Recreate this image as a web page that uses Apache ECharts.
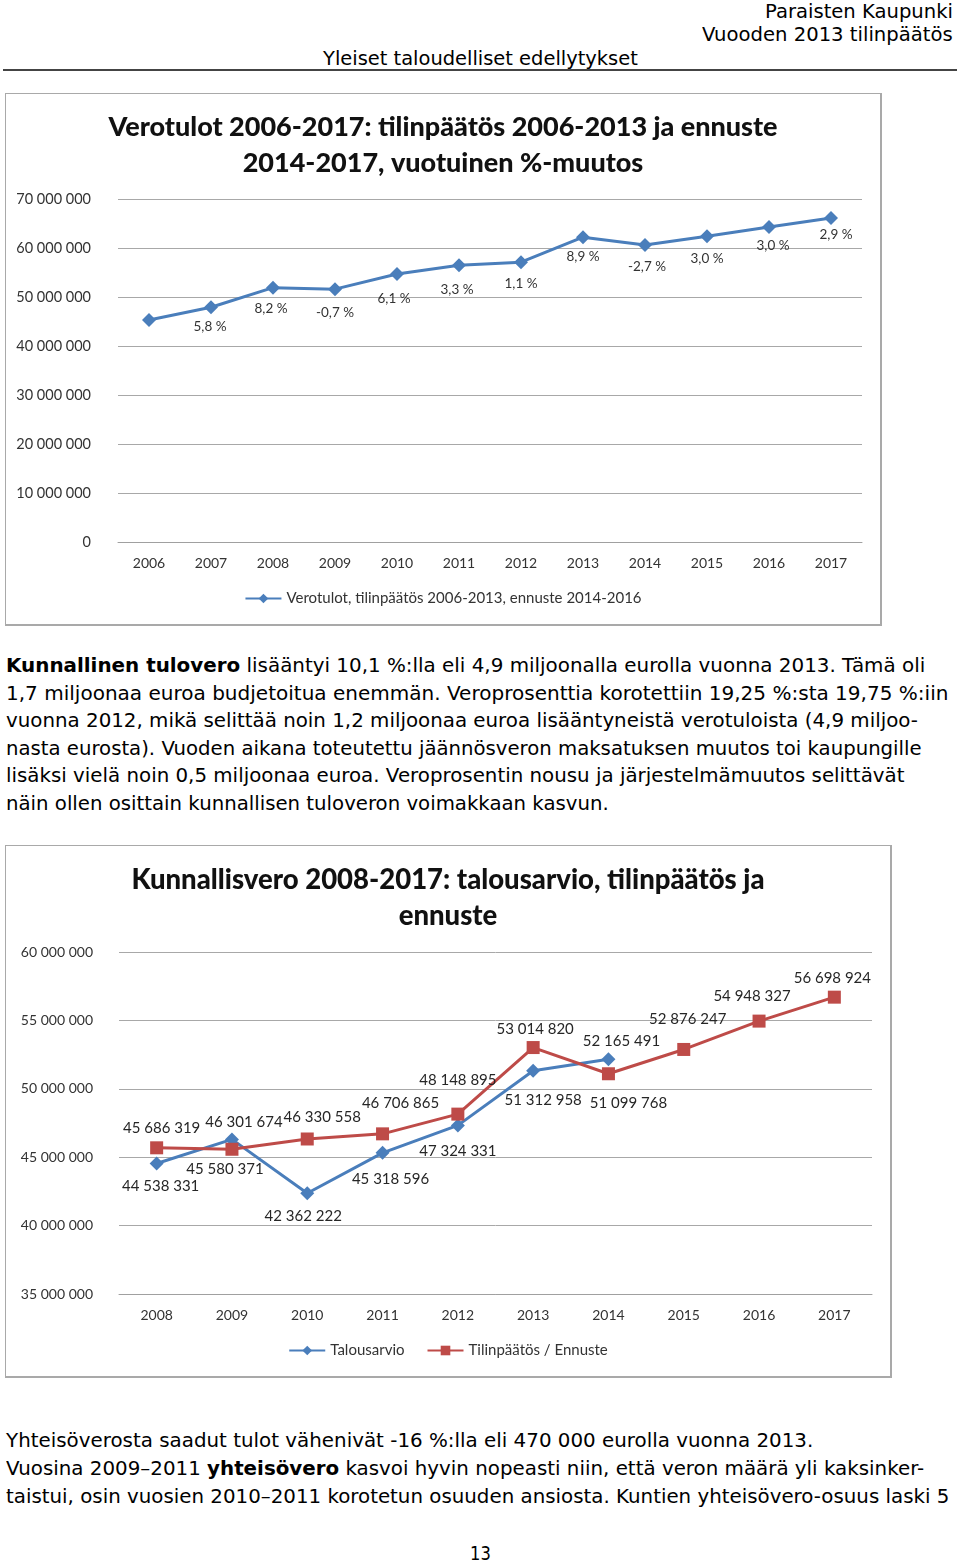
<!DOCTYPE html>
<html><head><meta charset="utf-8">
<script src="https://cdn.jsdelivr.net/npm/echarts@6/dist/echarts.min.js"></script>
<style>
html,body{margin:0;padding:0;background:#fff;width:960px;height:1562px;overflow:hidden;}
.t{position:absolute;white-space:nowrap;font-family:"DejaVu Sans",Verdana,sans-serif;color:#000;transform-origin:0 50%;line-height:1;}
.box{position:absolute;border:2px solid #a9a9a9;box-sizing:border-box;}
.ch{position:absolute;}
</style></head><body>
<div class="t" id="h1" data-r="953" data-w="188" style="top:1px;font-size:20px;">Paraisten Kaupunki</div>
<div class="t" id="h2" data-r="953" data-w="251" style="top:24px;font-size:20px;">Vuooden 2013 tilinpäätös</div>
<div class="t" id="h3" data-c="480" data-w="315" style="top:48px;font-size:20px;">Yleiset taloudelliset edellytykset</div>
<div style="position:absolute;left:3px;top:69px;width:954px;height:2px;background:#444;"></div>

<div class="box" style="left:5px;top:93px;width:877px;height:533px;"></div>
<div class="ch" id="c1" style="left:6px;top:94px;width:874px;height:530px;"></div>

<div class="t p" data-l="6" data-w="919" style="top:656px;font-size:19px;"><b>Kunnallinen tulovero</b> lisääntyi 10,1 %:lla eli 4,9 miljoonalla eurolla vuonna 2013. Tämä oli</div>
<div class="t p" data-l="6" data-w="942" style="top:684px;font-size:19px;">1,7 miljoonaa euroa budjetoitua enemmän. Veroprosenttia korotettiin 19,25 %:sta 19,75 %:iin</div>
<div class="t p" data-l="6" data-w="912" style="top:711px;font-size:19px;">vuonna 2012, mikä selittää noin 1,2 miljoonaa euroa lisääntyneistä verotuloista (4,9 miljoo-</div>
<div class="t p" data-l="6" data-w="916" style="top:739px;font-size:19px;">nasta eurosta). Vuoden aikana toteutettu jäännösveron maksatuksen muutos toi kaupungille</div>
<div class="t p" data-l="6" data-w="898" style="top:766px;font-size:19px;">lisäksi vielä noin 0,5 miljoonaa euroa. Veroprosentin nousu ja järjestelmämuutos selittävät</div>
<div class="t p" data-l="6" data-w="603" style="top:794px;font-size:19px;">näin ollen osittain kunnallisen tuloveron voimakkaan kasvun.</div>

<div class="box" style="left:5px;top:845px;width:887px;height:533px;"></div>
<div class="ch" id="c2" style="left:6px;top:846px;width:884px;height:530px;"></div>

<div class="t p" data-l="6" data-w="807" style="top:1431px;font-size:19px;">Yhteisöverosta saadut tulot vähenivät -16 %:lla eli 470 000 eurolla vuonna 2013.</div>
<div class="t p" data-l="6" data-w="918" style="top:1459px;font-size:19px;">Vuosina 2009–2011 <b>yhteisövero</b> kasvoi hyvin nopeasti niin, että veron määrä yli kaksinker-</div>
<div class="t p" data-l="6" data-w="943" style="top:1487px;font-size:19px;">taistui, osin vuosien 2010–2011 korotetun osuuden ansiosta. Kuntien yhteisövero-osuus laski 5</div>
<div class="t" id="pn" data-c="480" style="top:1544px;font-size:19px;">13</div>

<script>
// ---- data: chart 1 ----
const years1 = ['2006','2007','2008','2009','2010','2011','2012','2013','2014','2015','2016','2017'];
const verotulot = [45300000, 47900000, 51900000, 51600000, 54700000, 56500000, 57100000, 62200000, 60600000, 62400000, 64300000, 66100000];
const muutos = ['', '5,8 %', '8,2 %', '-0,7 %', '6,1 %', '3,3 %', '1,1 %', '8,9 %', '-2,7 %', '3,0 %', '3,0 %', '2,9 %'];
const series1Name = 'Verotulot, tilinpäätös 2006-2013, ennuste 2014-2016';
const title1 = 'Verotulot 2006-2017: tilinpäätös 2006-2013 ja ennuste\n2014-2017, vuotuinen %-muutos';

// ---- data: chart 2 ----
const years2 = ['2008','2009','2010','2011','2012','2013','2014','2015','2016','2017'];
const talousarvio = [44538331, 46301674, 42362222, 45318596, 47324331, 51312958, 52165491, null, null, null];
const tilinpaatos = [45686319, 45580371, 46330558, 46706865, 48148895, 53014820, 51099768, 52876247, 54948327, 56698924];
const title2 = 'Kunnallisvero 2008-2017: talousarvio, tilinpäätös ja\nennuste';

// label placement (style only)
const posA = ['bottom','top','bottom','bottom','bottom','bottom','top'];
const dxA  = [4, 12, -4, 8, 0, 10, 13];
const dyA  = [0, 5, 0, 4, 3, 7, 4];
const posB = ['top','bottom','top','top','top','top','bottom','top','top','top'];
const dxB  = [5, -7, 15, 18, 0, 2, 20, 4, -7, -2];
const dyB  = [2, -2, 0, -9, -12, 4, 7, -8, -3, 3];
const dy1  = [0, -1, 1, 3, 5, 4, 1, -1, 2, 2, -1, -3];
const dx1  = [0, -1, -2, 0, -3, -2, 0, 0, 2, 0, 4, 5];

const fmt = v => String(Math.round(v)).replace(/\B(?=(\d{3})+(?!\d))/g, ' ');
const FF = 'Lato, "Noto Sans", sans-serif';
const BLUE = '#4a7ebb', RED = '#be4b48';

// ---- text fitting ----
document.querySelectorAll('.t').forEach(el => {
  const w = el.offsetWidth;
  let s = 1;
  if (el.dataset.w) s = (+el.dataset.w) / w;
  else s = 0.86;
  el.style.transform = 'scaleX(' + s + ')';
  const sw = w * s;
  if (el.dataset.r) el.style.left = (+el.dataset.r - sw) + 'px';
  else if (el.dataset.c) el.style.left = (+el.dataset.c - sw / 2) + 'px';
  else el.style.left = (el.dataset.l || 0) + 'px';
});

const titleStyle = { fontFamily: FF, fontWeight: 900, fontSize: 27.5, lineHeight: 36, color: '#111' };

// ---- chart 1 ----
const c1 = echarts.init(document.getElementById('c1'));
c1.setOption({
  animation: false,
  backgroundColor: '#fff',
  title: { text: title1, left: 'center', top: 10, textStyle: Object.assign({}, titleStyle, { fontSize: 27 }) },
  grid: { left: 112, right: 18, top: 105, bottom: 82 },
  legend: { bottom: 13, left: 'center', itemWidth: 36, itemHeight: 12, textStyle: { fontFamily: FF, fontSize: 15, color: '#333' }, data: [series1Name] },
  xAxis: { type: 'category', data: years1, axisTick: { show: false }, axisLine: { lineStyle: { color: '#a0a0a0' } },
    axisLabel: { fontFamily: FF, fontSize: 14, color: '#333', margin: 14 } },
  yAxis: { type: 'value', min: 0, max: 70000000, interval: 10000000,
    axisLabel: { fontFamily: FF, fontSize: 14.5, color: '#333', margin: 27, formatter: v => fmt(v) },
    splitLine: { lineStyle: { color: '#a8a8a8' } }, axisLine: { show: false }, axisTick: { show: false } },
  series: [{
    name: series1Name, type: 'line', symbol: 'diamond', symbolSize: 14,
    lineStyle: { width: 3, color: BLUE }, itemStyle: { color: BLUE },
    data: verotulot.map((v, i) => ({ value: v, label: { offset: [dx1[i], dy1[i]] } })),
    label: { show: true, position: 'bottom', distance: 6, fontFamily: FF, fontSize: 13.5, color: '#333',
      formatter: p => muutos[p.dataIndex] }
  }]
});

// ---- chart 2 ----
const c2 = echarts.init(document.getElementById('c2'));
const lab = { show: true, distance: 8, fontFamily: FF, fontSize: 15, color: '#262626', formatter: p => fmt(p.value) };
c2.setOption({
  animation: false,
  backgroundColor: '#fff',
  title: { text: title2, left: 'center', top: 11, textStyle: titleStyle },
  grid: { left: 113, right: 18, top: 106, bottom: 82 },
  legend: { bottom: 13, left: 'center', itemWidth: 36, itemHeight: 12, itemGap: 22, textStyle: { fontFamily: FF, fontSize: 15, color: '#333' } },
  xAxis: { type: 'category', data: years2, axisTick: { show: false }, axisLine: { lineStyle: { color: '#a0a0a0' } },
    axisLabel: { fontFamily: FF, fontSize: 14, color: '#333', margin: 14 } },
  yAxis: { type: 'value', min: 35000000, max: 60000000, interval: 5000000,
    axisLabel: { fontFamily: FF, fontSize: 14, color: '#333', margin: 26, formatter: v => fmt(v) },
    splitLine: { lineStyle: { color: '#a8a8a8' } }, axisLine: { show: false }, axisTick: { show: false } },
  series: [{
    name: 'Talousarvio', type: 'line', symbol: 'diamond', symbolSize: 14,
    lineStyle: { width: 3, color: BLUE }, itemStyle: { color: BLUE },
    data: talousarvio.map((v, i) => ({ value: v, label: { position: posA[i] || 'top', offset: [dxA[i] || 0, dyA[i] || 0] } })),
    label: lab
  }, {
    name: 'Tilinpäätös / Ennuste', type: 'line', symbol: 'rect', symbolSize: 13,
    lineStyle: { width: 3, color: RED }, itemStyle: { color: RED },
    data: tilinpaatos.map((v, i) => ({ value: v, label: { position: posB[i], offset: [dxB[i], dyB[i]] } })),
    label: lab
  }]
});
</script>
</body></html>
